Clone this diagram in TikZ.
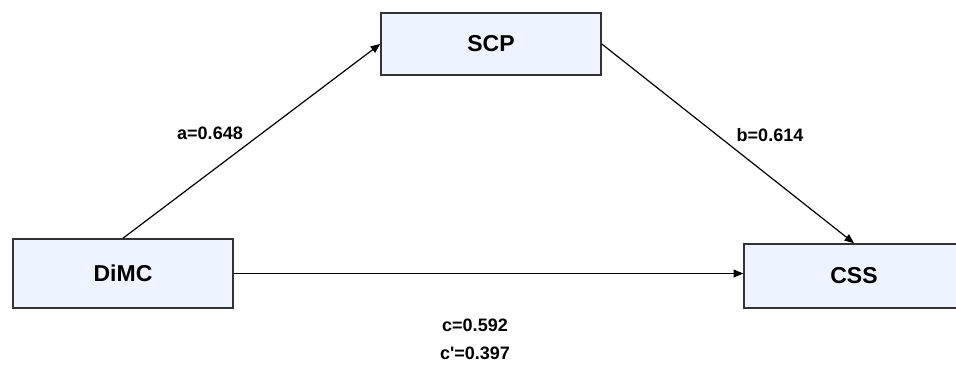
\documentclass[tikz,border=0pt]{standalone}
\usepackage{fontspec}
\setmainfont{Liberation Sans}
\usetikzlibrary{arrows}
\definecolor{boxfill}{HTML}{EEF4FF}
\definecolor{boxline}{HTML}{333333}

\begin{document}
\begin{tikzpicture}[>=triangle 45,x=1pt,y=-1pt,
  varbox/.style={draw=boxline,line width=1.6pt,fill=boxfill,minimum width=220pt,
    font=\fontsize{23}{26}\selectfont\bfseries,inner sep=0pt},
  coef/.style={font=\fontsize{18}{20}\selectfont\bfseries},
  path/.style={line width=1.2pt,->}]
% frame
\useasboundingbox (0,0) rectangle (956,370);
% variables
\node[varbox,minimum height=62pt] (scp) at (491,44) {SCP};
\node[varbox,minimum height=69pt] (dimc) at (123,273.5) {DiMC};
\node[varbox,minimum height=64pt] (css) at (854,276) {CSS};
% paths
\draw[path] (dimc.north) -- (scp.west);
\draw[path] (scp.east) -- (css.north);
\draw[path] (dimc.east) -- (dimc.east -| css.west);
% coefficients
\node[coef] (a) at (210,133) {a=0.648};
\node[coef] (b) at (770,135) {b=0.614};
\node[coef] (c) at (475,325) {c=0.592};
\node[coef] (cp) at (475,353) {c\textquotesingle=0.397};
\end{tikzpicture}
\end{document}
